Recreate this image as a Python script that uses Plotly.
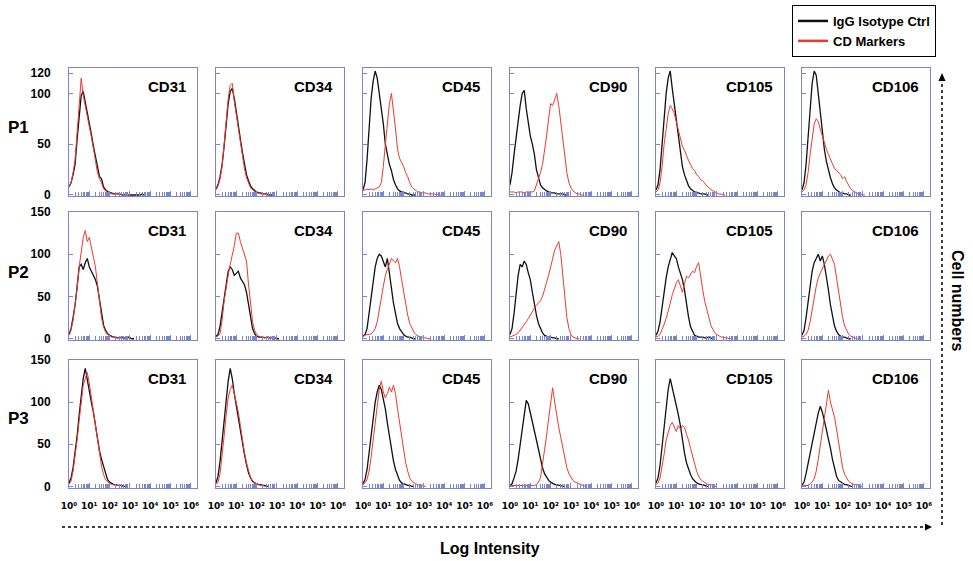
import plotly.graph_objects as go

# ---------------- data ----------------
BIN_LOG10 = [0.0, 0.1, 0.2, 0.3, 0.4, 0.5, 0.6, 0.7, 0.8, 0.9,
             1.0, 1.1, 1.2, 1.3, 1.4, 1.5, 1.6, 1.7, 1.8, 1.9,
             2.0, 2.1, 2.2, 2.3, 2.4, 2.5, 2.6, 2.7, 2.8, 2.9,
             3.0, 3.1, 3.2, 3.3, 3.4, 3.5, 3.6, 3.7, 3.8, 3.9, 4.0]

MARKERS = ["CD31", "CD34", "CD45", "CD90", "CD105", "CD106"]
PASSAGES = ["P1", "P2", "P3"]

X_TICK_DECADES = [0, 1, 2, 3, 4, 5, 6]
X_TICK_LABELS = ["10⁰", "10¹", "10²", "10³", "10⁴", "10⁵", "10⁶"]
X_MINOR_MULT = [2, 3, 4, 5, 6, 7, 8, 9]
Y_TICKS_P1 = [0, 50, 100, 120]
Y_TICKS_P23 = [0, 50, 100, 150]

# P1
P1_CD31_IGG = [8, 12, 20, 30, 55, 80, 98, 102, 92, 82, 72, 60, 48, 38, 25, 18, 16, 8, 5, 3, 2, 2, 1, 1, 1, 1, 0, 0, 1, 0, 0, 0, 0, 0, 0, 0, 1, 0, 0]
P1_CD31_CD = [8, 12, 22, 35, 62, 92, 115, 98, 88, 78, 70, 57, 46, 35, 22, 16, 12, 6, 4, 2, 2, 1, 1, 1, 2, 1, 0, 0, 0, 0, 0]
P1_CD34_IGG = [6, 10, 18, 30, 48, 70, 90, 102, 105, 95, 80, 68, 55, 42, 30, 20, 14, 9, 6, 4, 3, 2, 2, 1, 1, 1, 0, 0, 0]
P1_CD34_CD = [5, 9, 16, 28, 50, 75, 95, 108, 110, 92, 78, 65, 50, 38, 26, 17, 12, 7, 5, 3, 2, 2, 1, 1, 1, 0, 0, 0]
P1_CD45_IGG = [5, 12, 35, 70, 95, 112, 122, 115, 100, 88, 70, 50, 38, 30, 24, 15, 10, 6, 4, 3, 2, 2, 1, 1, 0, 0, 0]
P1_CD45_CD = [4, 5, 6, 5, 6, 5, 6, 7, 8, 12, 28, 50, 70, 90, 100, 85, 65, 45, 36, 32, 28, 22, 18, 12, 8, 6, 4, 3, 3, 2, 2, 2, 1, 1, 1, 1, 0, 1, 0, 0, 0]
P1_CD90_IGG = [10, 22, 40, 58, 75, 88, 100, 103, 85, 70, 58, 50, 40, 25, 16, 10, 7, 5, 4, 3, 2, 2, 2, 1, 1, 1, 1, 0, 0]
P1_CD90_CD = [3, 3, 3, 2, 3, 3, 3, 2, 3, 3, 3, 3, 4, 10, 15, 22, 30, 42, 58, 75, 90, 88, 95, 100, 88, 70, 52, 35, 22, 12, 7, 4, 2, 1, 1, 0, 0]
P1_CD105_IGG = [5, 10, 25, 50, 80, 100, 115, 122, 105, 90, 72, 55, 40, 28, 20, 14, 9, 6, 4, 3, 2, 2, 1, 1, 1, 0, 0]
P1_CD105_CD = [3, 5, 12, 28, 50, 68, 80, 88, 85, 80, 72, 62, 55, 48, 44, 38, 34, 30, 26, 24, 20, 18, 15, 14, 11, 9, 7, 5, 4, 3, 2, 1, 1, 0, 0]
P1_CD106_IGG = [5, 12, 30, 60, 90, 110, 122, 118, 100, 80, 62, 45, 33, 24, 17, 11, 7, 5, 3, 2, 2, 1, 1, 0, 0]
P1_CD106_CD = [3, 5, 10, 22, 40, 58, 70, 75, 72, 65, 58, 52, 45, 40, 35, 30, 26, 24, 22, 20, 16, 18, 13, 9, 6, 4, 3, 2, 1, 1, 0, 0]

# P2
P2_CD31_IGG = [5, 12, 25, 40, 62, 85, 88, 82, 90, 95, 85, 80, 75, 70, 62, 45, 28, 16, 10, 6, 4, 3, 2, 2, 1, 1, 2, 1, 1, 2, 1, 0, 0]
P2_CD31_CD = [4, 10, 22, 40, 60, 85, 105, 120, 128, 115, 120, 108, 100, 85, 65, 42, 25, 14, 8, 5, 3, 2, 2, 1, 1, 2, 1, 0, 0]
P2_CD34_IGG = [3, 5, 15, 32, 50, 68, 80, 85, 82, 75, 78, 80, 72, 67, 64, 55, 40, 25, 12, 6, 3, 2, 2, 2, 1, 2, 1, 1, 2, 1, 0, 0]
P2_CD34_CD = [2, 3, 6, 22, 45, 62, 75, 88, 98, 110, 125, 125, 115, 108, 100, 92, 65, 38, 20, 10, 5, 3, 2, 2, 1, 2, 1, 1, 2, 0, 0]
P2_CD45_IGG = [3, 5, 12, 30, 50, 70, 85, 95, 100, 98, 92, 85, 95, 80, 60, 42, 28, 18, 12, 8, 5, 3, 2, 2, 1, 0, 0]
P2_CD45_CD = [3, 4, 5, 5, 6, 8, 12, 20, 32, 48, 62, 75, 82, 88, 95, 92, 90, 95, 85, 70, 55, 40, 28, 18, 12, 8, 5, 3, 2, 2, 1, 1, 0, 0]
P2_CD90_IGG = [5, 12, 30, 55, 75, 88, 85, 92, 88, 78, 70, 55, 40, 28, 18, 12, 7, 4, 3, 2, 2, 1, 1, 0, 0]
P2_CD90_CD = [2, 3, 4, 5, 7, 10, 13, 16, 20, 24, 28, 32, 36, 40, 42, 45, 50, 58, 65, 75, 85, 95, 105, 110, 115, 100, 75, 50, 25, 12, 5, 2, 1, 0, 0]
P2_CD105_IGG = [4, 9, 20, 38, 55, 72, 85, 95, 102, 98, 95, 85, 78, 70, 58, 40, 26, 14, 8, 4, 3, 2, 2, 2, 1, 1, 2, 1, 0, 0]
P2_CD105_CD = [2, 3, 5, 10, 17, 24, 32, 42, 52, 60, 66, 70, 62, 55, 65, 74, 72, 76, 80, 78, 86, 90, 72, 58, 44, 34, 25, 16, 11, 7, 5, 3, 2, 2, 1, 1, 0, 0]
P2_CD106_IGG = [4, 10, 25, 45, 65, 80, 90, 95, 100, 92, 98, 88, 75, 58, 40, 26, 15, 9, 5, 3, 2, 2, 1, 0, 0]
P2_CD106_CD = [2, 3, 5, 10, 20, 35, 50, 62, 72, 78, 82, 88, 92, 98, 100, 95, 88, 72, 55, 38, 25, 15, 9, 5, 3, 2, 1, 0, 0]

# P3
P3_CD31_IGG = [4, 10, 22, 40, 60, 85, 105, 128, 140, 125, 115, 100, 88, 72, 58, 42, 32, 24, 15, 8, 5, 3, 2, 2, 1, 1, 1, 0, 0]
P3_CD31_CD = [2, 6, 18, 35, 55, 78, 100, 120, 128, 135, 122, 105, 90, 75, 55, 38, 24, 14, 8, 5, 3, 2, 2, 1, 1, 1, 0, 0]
P3_CD34_IGG = [4, 12, 30, 55, 80, 105, 125, 140, 128, 110, 95, 80, 65, 50, 38, 26, 16, 10, 6, 4, 3, 2, 2, 1, 1, 0, 0]
P3_CD34_CD = [2, 5, 15, 35, 60, 85, 105, 115, 120, 110, 100, 88, 72, 55, 40, 28, 18, 10, 6, 4, 2, 2, 1, 1, 0, 0]
P3_CD45_IGG = [3, 8, 20, 40, 62, 82, 100, 112, 120, 115, 105, 92, 75, 58, 42, 30, 20, 12, 7, 4, 3, 2, 1, 1, 0, 0]
P3_CD45_CD = [2, 4, 8, 18, 35, 55, 78, 100, 115, 125, 112, 105, 110, 118, 112, 120, 110, 92, 75, 58, 42, 28, 18, 10, 6, 4, 3, 2, 1, 1, 0, 0]
P3_CD90_IGG = [1, 3, 10, 18, 32, 50, 70, 90, 102, 98, 88, 78, 68, 55, 44, 32, 22, 15, 10, 7, 5, 3, 2, 2, 1, 1, 0, 0]
P3_CD90_CD = [1, 1, 1, 1, 1, 1, 1, 1, 1, 1, 1, 1, 1, 2, 5, 10, 25, 42, 60, 80, 100, 117, 100, 82, 70, 58, 45, 32, 22, 15, 11, 7, 5, 4, 3, 2, 1, 0, 0]
P3_CD105_IGG = [4, 10, 25, 48, 72, 95, 115, 128, 118, 108, 95, 85, 72, 55, 40, 28, 20, 14, 9, 6, 4, 3, 2, 2, 1, 0, 0]
P3_CD105_CD = [2, 4, 10, 22, 38, 55, 65, 72, 76, 70, 65, 72, 68, 72, 70, 62, 55, 45, 35, 25, 18, 12, 8, 6, 4, 3, 2, 2, 1, 0, 0]
P3_CD106_IGG = [1, 5, 15, 27, 38, 52, 65, 78, 87, 95, 88, 78, 68, 56, 45, 32, 22, 12, 7, 5, 3, 2, 2, 1, 0, 0]
P3_CD106_CD = [0, 1, 1, 1, 3, 5, 9, 18, 32, 48, 65, 82, 98, 114, 100, 92, 82, 68, 52, 35, 22, 14, 9, 6, 4, 3, 2, 2, 1, 0, 0]

IGG = [
    [P1_CD31_IGG, P1_CD34_IGG, P1_CD45_IGG, P1_CD90_IGG, P1_CD105_IGG, P1_CD106_IGG],
    [P2_CD31_IGG, P2_CD34_IGG, P2_CD45_IGG, P2_CD90_IGG, P2_CD105_IGG, P2_CD106_IGG],
    [P3_CD31_IGG, P3_CD34_IGG, P3_CD45_IGG, P3_CD90_IGG, P3_CD105_IGG, P3_CD106_IGG],
]
CDM = [
    [P1_CD31_CD, P1_CD34_CD, P1_CD45_CD, P1_CD90_CD, P1_CD105_CD, P1_CD106_CD],
    [P2_CD31_CD, P2_CD34_CD, P2_CD45_CD, P2_CD90_CD, P2_CD105_CD, P2_CD106_CD],
    [P3_CD31_CD, P3_CD34_CD, P3_CD45_CD, P3_CD90_CD, P3_CD105_CD, P3_CD106_CD],
]

# ---------------- layout / style ----------------
W, H = 973, 561
COL_LEFT = [69, 216, 363, 510, 656, 802]
ROW_TOP = [68, 212, 360]
PW, PH = 128, 128
Y_RANGES = [[-1, 125], [-1.5, 150], [-2, 150]]
X_RANGE = [0, 6.3]
FONT = "Liberation Sans, Arial, DejaVu Sans, sans-serif"
TICK_FONT = "DejaVu Sans, sans-serif"
AXIS_BLUE = "#7d86cc"
BLACK = "#111111"
RED = "#ec3a2f"


def px_x(p):
    return p / W


def px_y(p):
    return 1 - p / H


xmajor = [10 ** d for d in X_TICK_DECADES]
xminor = [m * 10 ** d for d in X_TICK_DECADES for m in X_MINOR_MULT
          if m * 10 ** d <= 10 ** X_RANGE[1]]

fig = go.Figure()
layout = {}
annotations = []

for r in range(3):
    for c in range(6):
        n = r * 6 + c + 1
        xa = "x" if n == 1 else f"x{n}"
        ya = "y" if n == 1 else f"y{n}"
        xs_igg = [10 ** v for v in BIN_LOG10[:len(IGG[r][c])]]
        xs_cd = [10 ** v for v in BIN_LOG10[:len(CDM[r][c])]]
        fig.add_trace(go.Scatter(x=xs_igg, y=IGG[r][c], mode="lines", xaxis=xa, yaxis=ya,
                                 line=dict(color=BLACK, width=1.3), showlegend=False,
                                 hoverinfo="skip"))
        fig.add_trace(go.Scatter(x=xs_cd, y=CDM[r][c], mode="lines", xaxis=xa, yaxis=ya,
                                 line=dict(color=RED, width=1.0), showlegend=False,
                                 hoverinfo="skip"))
        x0 = COL_LEFT[c]
        y0 = ROW_TOP[r]
        yt = Y_TICKS_P1 if r == 0 else Y_TICKS_P23
        xaxis = dict(
            domain=[px_x(x0), px_x(x0 + PW)], anchor=ya, type="log",
            range=X_RANGE, showgrid=False, zeroline=False, automargin=False,
            showline=True, mirror=True, linecolor=AXIS_BLUE, linewidth=1,
            ticks="inside", ticklen=5, tickwidth=1, tickcolor=AXIS_BLUE,
            minor=dict(tickmode="array", tickvals=xminor, ticks="inside",
                       ticklen=4, tickwidth=1, tickcolor=AXIS_BLUE, showgrid=False),
        )
        if r == 2:
            xaxis.update(tickmode="array", tickvals=xmajor, ticktext=X_TICK_LABELS,
                         showticklabels=True, ticklabelstandoff=9,
                         tickfont=dict(family=TICK_FONT, size=9, color="black", weight="bold"))
        else:
            xaxis.update(tickmode="array", tickvals=xmajor, showticklabels=False)
        layout["xaxis" if n == 1 else f"xaxis{n}"] = xaxis

        yaxis = dict(
            domain=[px_y(y0 + PH), px_y(y0)], anchor=xa,
            range=Y_RANGES[r], showgrid=False, zeroline=False, automargin=False,
            showline=True, mirror=True, linecolor=AXIS_BLUE, linewidth=1,
            tickmode="array", tickvals=yt,
            ticks="inside", ticklen=4, tickwidth=1, tickcolor=AXIS_BLUE,
            showticklabels=(c == 0),
        )
        if c == 0:
            yaxis.update(ticklabelstandoff=15,
                         tickfont=dict(family=FONT, size=12, color="black", weight="bold"))
        layout["yaxis" if n == 1 else f"yaxis{n}"] = yaxis

        annotations.append(dict(
            text=MARKERS[c], xref=f"{xa} domain", yref=f"{ya} domain",
            x=0.93, y=0.94, xanchor="right", yanchor="top", showarrow=False,
            font=dict(family=FONT, size=15, color="black", weight="bold")))

# row labels
ROW_LABEL_Y = [128, 272, 418]
for r in range(3):
    annotations.append(dict(text=PASSAGES[r], xref="paper", yref="paper",
                            x=px_x(18), y=px_y(ROW_LABEL_Y[r]), xanchor="center", yanchor="middle",
                            showarrow=False,
                            font=dict(family=FONT, size=17, color="black", weight="bold")))

annotations.append(dict(text="Log Intensity", xref="paper", yref="paper",
                        x=px_x(490), y=px_y(548), xanchor="center", yanchor="middle",
                        showarrow=False, font=dict(family=FONT, size=16, color="black", weight="bold")))
annotations.append(dict(text="Cell numbers", xref="paper", yref="paper",
                        x=px_x(958), y=px_y(300), xanchor="center", yanchor="middle",
                        textangle=90, showarrow=False,
                        font=dict(family=FONT, size=16, color="black", weight="bold")))

shapes = [
    # horizontal dotted arrow
    dict(type="line", xref="paper", yref="paper", x0=px_x(62), x1=px_x(926),
         y0=px_y(527), y1=px_y(527), line=dict(color="black", width=1.5, dash="dot")),
    dict(type="path", xref="paper", yref="paper",
         path=f"M {px_x(925)},{px_y(523.5)} L {px_x(932)},{px_y(527)} L {px_x(925)},{px_y(530.5)} Z",
         fillcolor="black", line=dict(color="black", width=0)),
    # vertical dotted arrow
    dict(type="line", xref="paper", yref="paper", x0=px_x(942), x1=px_x(942),
         y0=px_y(525), y1=px_y(80), line=dict(color="black", width=1.5, dash="dot")),
    dict(type="path", xref="paper", yref="paper",
         path=f"M {px_x(938.5)},{px_y(81)} L {px_x(942)},{px_y(73)} L {px_x(945.5)},{px_y(81)} Z",
         fillcolor="black", line=dict(color="black", width=0)),
]

# legend entries
fig.add_trace(go.Scatter(x=[None], y=[None], mode="lines", name="IgG Isotype Ctrl",
                         line=dict(color=BLACK, width=2.5), xaxis="x", yaxis="y"))
fig.add_trace(go.Scatter(x=[None], y=[None], mode="lines", name="CD Markers",
                         line=dict(color=RED, width=2.5), xaxis="x", yaxis="y"))

fig.update_layout(
    width=W, height=H, margin=dict(l=0, r=0, t=0, b=0, autoexpand=False),
    paper_bgcolor="white", plot_bgcolor="white",
    showlegend=True,
    legend=dict(x=px_x(792), y=px_y(5), xanchor="left", yanchor="top",
                bordercolor="black", borderwidth=1, bgcolor="white",
                font=dict(family=FONT, size=13, color="black", weight="bold"),
                tracegroupgap=0, itemwidth=30),
    annotations=annotations, shapes=shapes,
    **layout,
)

fig.write_html("out.html", config={"displayModeBar": False},
               post_script="document.body.style.margin='0px';document.body.style.padding='0px';")
